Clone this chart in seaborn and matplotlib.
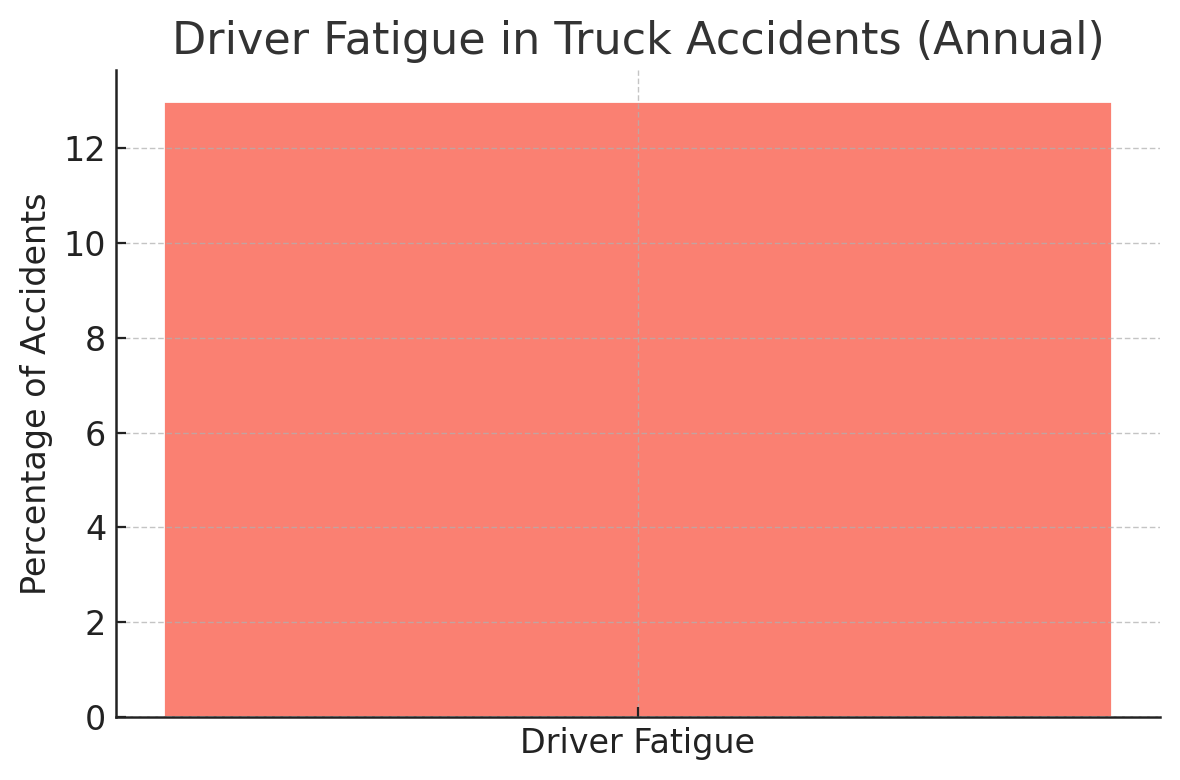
import matplotlib
matplotlib.use("Agg")
import matplotlib.pyplot as plt
import seaborn as sns
import pandas as pd

# data
categories = ["Driver Fatigue"]
percentages = [13]

df = pd.DataFrame({"factor": categories, "pct": percentages})

sns.set_style("ticks")
plt.rcParams["font.family"] = ["DejaVu Sans"]

fig, ax = plt.subplots(figsize=(5.9, 3.9), dpi=200)
sns.barplot(data=df, x="factor", y="pct", color="salmon", saturation=1,
            width=0.8, ax=ax)

ax.set_xlim(-0.44, 0.44)
ax.set_ylim(0, max(percentages) * 1.05)
ax.set_axisbelow(False)
ax.grid(True, linestyle=(0, (4, 2)), linewidth=0.5, color="#b0b0b0", alpha=0.75)

ax.set_title("Driver Fatigue in Truck Accidents (Annual)", fontsize=16, color="#333333")
ax.set_xlabel("")
ax.set_ylabel("Percentage of Accidents", fontsize=12, color="#222222")
ax.tick_params(labelsize=12, colors="#222222", width=0.8, length=3.5,
               direction="in")
for s in ["left", "bottom"]:
    ax.spines[s].set_linewidth(0.9)
    ax.spines[s].set_color("#222222")
sns.despine(ax=ax)

fig.subplots_adjust(left=0.0983, right=0.983, top=0.910, bottom=0.0808)
fig.savefig("out.png", dpi=200)
